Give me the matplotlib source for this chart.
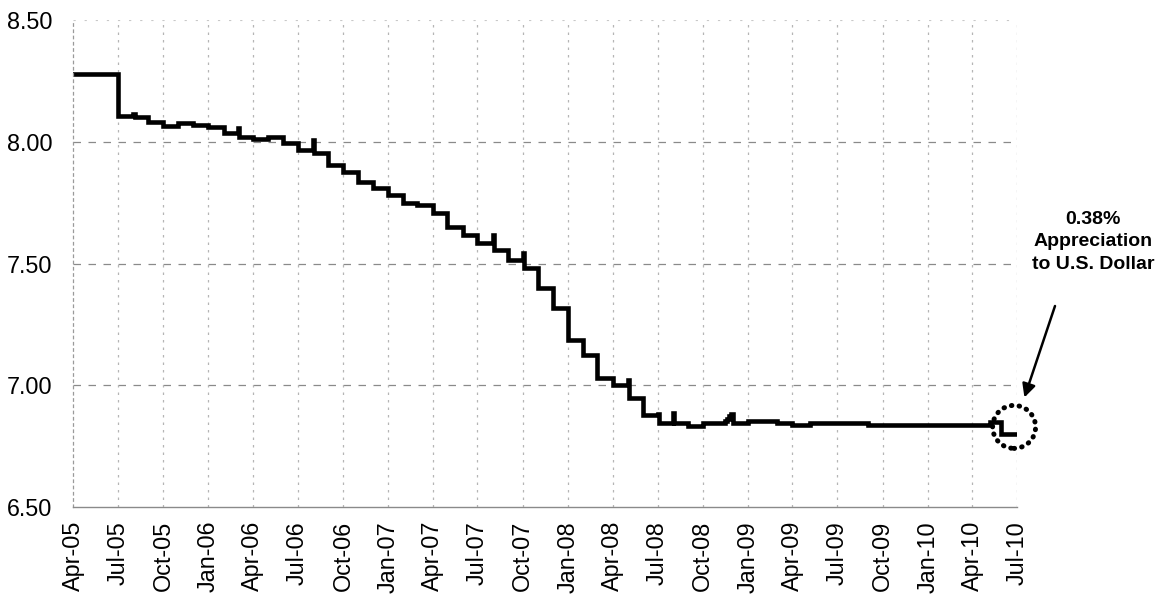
import numpy as np
import pandas as pd
import matplotlib
matplotlib.use('Agg')
import matplotlib.pyplot as plt
import matplotlib.dates as mdates
from matplotlib import font_manager, transforms
from matplotlib.patches import Circle

# CNY per USD (step changes)
dates = ['2005-04-01', '2005-07-01', '2005-08-01', '2005-08-04', '2005-09-01',
         '2005-10-01', '2005-11-01', '2005-12-01', '2006-01-01', '2006-02-01',
         '2006-03-01', '2006-03-04', '2006-04-01', '2006-05-01', '2006-06-01',
         '2006-07-01', '2006-08-01', '2006-08-04', '2006-09-01', '2006-10-01',
         '2006-11-01', '2006-12-01', '2007-01-01', '2007-02-01', '2007-03-01',
         '2007-04-01', '2007-05-01', '2007-06-01', '2007-07-01', '2007-08-01',
         '2007-08-04', '2007-09-01', '2007-10-01', '2007-10-04', '2007-11-01',
         '2007-12-01', '2008-01-01', '2008-02-01', '2008-03-01', '2008-04-01',
         '2008-05-01', '2008-05-04', '2008-06-01', '2008-07-01', '2008-07-04',
         '2008-08-01', '2008-08-04', '2008-09-01', '2008-10-01', '2008-11-15',
         '2008-11-20', '2008-11-24', '2008-11-28', '2008-12-02', '2009-01-01',
         '2009-03-01', '2009-04-01', '2009-05-07', '2009-09-01', '2010-05-08',
         '2010-05-29', '2010-07-01']
rate = [8.277, 8.105, 8.115, 8.100, 8.080,
        8.066, 8.078, 8.070, 8.060, 8.036,
        8.056, 8.020, 8.010, 8.020, 7.995,
        7.966, 8.007, 7.954, 7.905, 7.876,
        7.835, 7.810, 7.780, 7.748, 7.740,
        7.707, 7.650, 7.617, 7.584, 7.617,
        7.555, 7.514, 7.543, 7.480, 7.400,
        7.317, 7.186, 7.124, 7.030, 7.000,
        7.020, 6.948, 6.878, 6.882, 6.845,
        6.886, 6.845, 6.832, 6.845, 6.852,
        6.862, 6.872, 6.882, 6.845, 6.853,
        6.845, 6.837, 6.845, 6.837, 6.850,
        6.800, 6.800]

tick_dates = pd.date_range('2005-04-01', '2010-07-01', freq='QS-APR')
y_ticks = [6.50, 7.00, 7.50, 8.00, 8.50]

note = '0.38%\nAppreciation\nto U.S. Dollar'

names = {f.name for f in font_manager.fontManager.ttflist}
narrow = 'Liberation Sans Narrow' if 'Liberation Sans Narrow' in names else None
plt.rcParams['font.family'] = ['Liberation Sans', 'DejaVu Sans']

fig = plt.figure(figsize=(11.61, 5.96), dpi=100)
ax = fig.add_axes([0.0629, 0.1493, 0.8131, 0.8171])

x = pd.to_datetime(dates)
ax.step(x, rate, where='post', color='black', lw=3.3, solid_joinstyle='miter')

ax.set_xlim(pd.Timestamp('2005-04-01'), pd.Timestamp('2010-07-01'))
ax.set_ylim(6.5, 8.5)
ax.set_yticks(y_ticks)
ax.set_yticklabels(['%.2f' % v for v in y_ticks])
ax.set_xticks(tick_dates)
ax.xaxis.set_major_formatter(mdates.DateFormatter('%b-%y'))
plt.setp(ax.get_xticklabels(), rotation=90)
ax.tick_params(axis='both', length=0, labelsize=16.8, colors='black')
ax.tick_params(axis='x', pad=10)
ax.tick_params(axis='y', pad=15)

for v in y_ticks[1:4]:
    ax.axhline(v, color='#8a8a8a', lw=0.9, ls=(0, (6, 6)), zorder=0)
ax.axhline(y_ticks[4], color='#c8c8c8', lw=0.8, ls=(0, (2, 8)), zorder=0)
for d in tick_dates[1:]:
    ax.axvline(d, color='#b5b5b5', lw=0.9, ls=(0, (2, 4)), zorder=0)

for s in ['top', 'right']:
    ax.spines[s].set_visible(False)
ax.spines['bottom'].set_color('#8a8a8a')
ax.spines['bottom'].set_linewidth(1.0)
ax.spines['left'].set_color('#9a9a9a')
ax.spines['left'].set_linewidth(0.9)
ax.spines['left'].set_linestyle((0, (2, 3)))

# dotted circle around the last step
cx = mdates.date2num(pd.Timestamp('2010-06-25'))
trans = fig.dpi_scale_trans + transforms.ScaledTranslation(cx, 6.829, ax.transData)
ring = Circle((0, 0), radius=0.215, transform=trans, fill=False, color='black',
              lw=3.6, ls=(0, (0.1, 1.45)), capstyle='round', clip_on=False)
ax.add_patch(ring)

if narrow:
    note_font = dict(family=[narrow, 'DejaVu Sans'], fontsize=15.5)
else:
    note_font = dict(family=['Liberation Sans', 'DejaVu Sans'], fontsize=14)
fig.text(1093 / 1161, 1 - 242 / 596, note, ha='center', va='center',
         fontweight='bold', linespacing=1.45, **note_font)
ax.annotate('', xy=(pd.Timestamp('2010-07-16'), 6.95), xycoords='data',
            xytext=(1055 / 1161, 1 - 306 / 596), textcoords='figure fraction',
            arrowprops=dict(arrowstyle='-|>', color='black', lw=1.8,
                            mutation_scale=20, shrinkA=0, shrinkB=0),
            annotation_clip=False)

fig.savefig('out.png', dpi=100)
